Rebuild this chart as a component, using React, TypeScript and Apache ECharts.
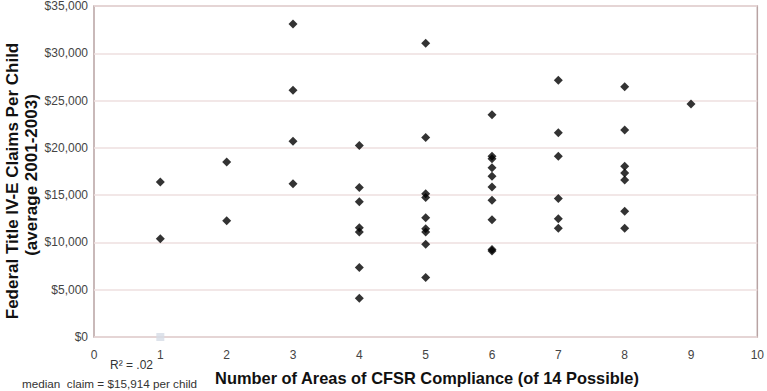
import React, { useEffect, useRef } from "react";
import * as echarts from "echarts";

// Claims per child (USD), grouped by number of areas of CFSR compliance
const areas1 = [16400, 10400];
const areas2 = [18500, 12300];
const areas3 = [33100, 26100, 20700, 16200];
const areas4 = [20250, 15800, 14300, 11550, 11100, 7350, 4100];
const areas5 = [31050, 21100, 15150, 14750, 12600, 11450, 11100, 9800, 6300];
const areas6 = [23500, 19100, 18850, 17900, 17000, 15850, 14450, 12400, 9250, 9100];
const areas7 = [27150, 21600, 19100, 14650, 12500, 11500];
const areas8 = [26450, 21900, 18050, 17350, 16600, 13300, 11500];
const areas9 = [24650];

const groups: [number, number[]][] = [
  [1, areas1], [2, areas2], [3, areas3], [4, areas4], [5, areas5],
  [6, areas6], [7, areas7], [8, areas8], [9, areas9],
];

const markerPoint = [[1, 0]];
const yTicks = { min: 0, max: 35000, interval: 5000 };
const xTicks = { min: 0, max: 10, interval: 1 };

const FONT = "'Liberation Sans', Arial, sans-serif";

export default function App() {
  const ref = useRef<HTMLDivElement>(null);
  useEffect(() => {
    if (!ref.current) return;
    const chart = echarts.init(ref.current, undefined, { renderer: "svg" });
    const pts: number[][] = [];
    groups.forEach(([x, vals]) => vals.forEach((v) => pts.push([x, v])));
    chart.setOption({
      animation: false,
      backgroundColor: "#ffffff",
      grid: {
        left: 94, right: 8, top: 5, bottom: 54,
        show: true, borderColor: "#b8a3a3", borderWidth: 1.5, backgroundColor: "transparent",
      },
      xAxis: {
        type: "value", ...xTicks,
        axisLine: { show: false }, axisTick: { show: false }, splitLine: { show: false },
        axisLabel: { color: "#444", fontSize: 12, fontFamily: FONT, margin: 12 },
      },
      yAxis: {
        type: "value", ...yTicks,
        axisLine: { show: false }, axisTick: { show: false },
        splitLine: { show: true, lineStyle: { color: "#eedfdf", width: 1.5 } },
        axisLabel: {
          color: "#444", fontSize: 12, fontFamily: FONT, margin: 6,
          formatter: (v: number) => "$" + v.toLocaleString("en-US"),
        },
      },
      series: [
        {
          type: "scatter", data: pts, symbol: "diamond", symbolSize: 9,
          itemStyle: { color: "#000" },
        },
        {
          type: "scatter", data: markerPoint, symbol: "rect", symbolSize: 8,
          itemStyle: { color: "#d6dce6" }, z: 1,
        },
      ],
      graphic: [
        {
          type: "text", x: 12, y: 181, rotation: Math.PI / 2,
          style: {
            text: "Federal Title IV-E Claims Per Child", fill: "#111",
            font: `bold 17px ${FONT}`, textAlign: "center", textVerticalAlign: "middle",
          },
        },
        {
          type: "text", x: 31, y: 175, rotation: Math.PI / 2,
          style: {
            text: "(average 2001-2003)", fill: "#111",
            font: `bold 17px ${FONT}`, textAlign: "center", textVerticalAlign: "middle",
          },
        },
        {
          type: "text", x: 427, y: 378,
          style: {
            text: "Number of Areas of CFSR Compliance (of 14 Possible)", fill: "#111",
            font: `bold 16.4px ${FONT}`, textAlign: "center", textVerticalAlign: "middle",
          },
        },
        {
          type: "text", x: 110, y: 365,
          style: {
            text: "R² = .02", fill: "#333",
            font: `12px ${FONT}`, textAlign: "left", textVerticalAlign: "middle",
          },
        },
        {
          type: "text", x: 22, y: 383,
          style: {
            text: "median  claim = $15,914 per child", fill: "#333",
            font: `11.7px ${FONT}`, textAlign: "left", textVerticalAlign: "middle",
          },
        },
      ],
    });
    return () => chart.dispose();
  }, []);
  return (
    <div
      ref={ref}
      style={{ position: "absolute", left: 0, top: 0, width: 767, height: 391 }}
    />
  );
}
